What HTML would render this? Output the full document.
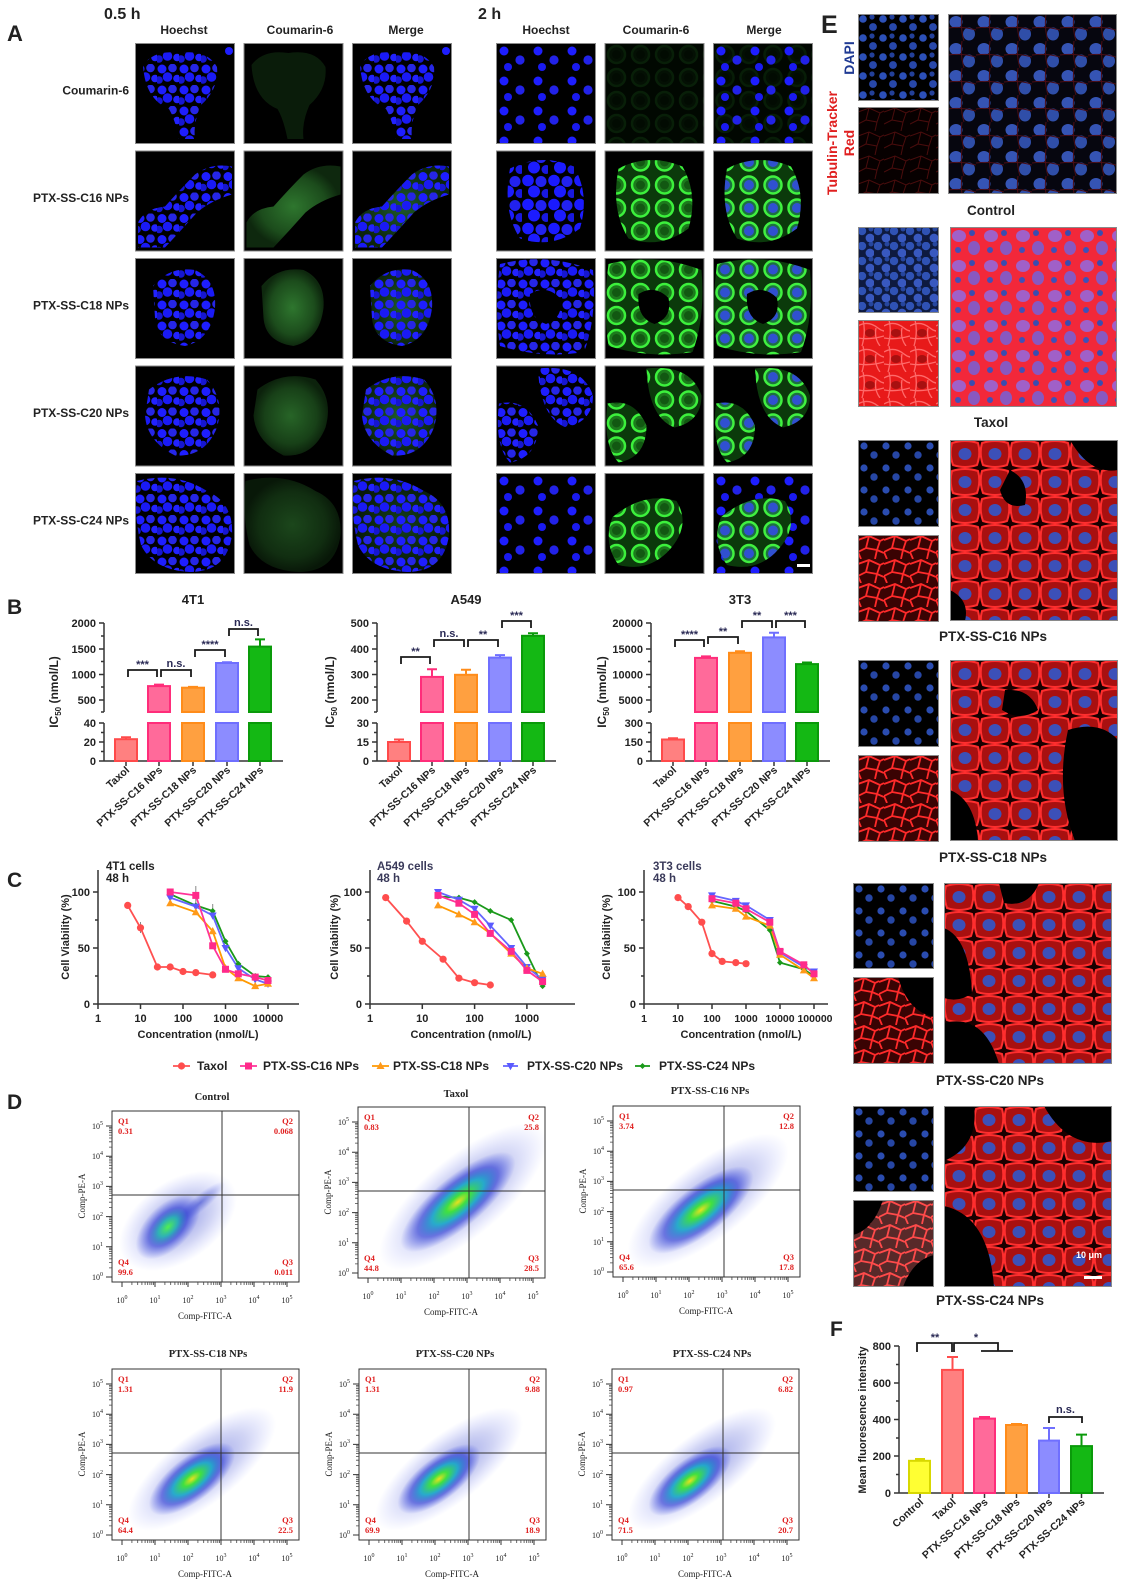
<!DOCTYPE html>
<html><head><meta charset="utf-8">
<style>
html,body{margin:0;padding:0;background:#fff;}
svg{display:block}
text{font-family:"Liberation Sans",Arial,sans-serif;font-weight:bold;fill:#222}
.sf{font-family:"Liberation Serif",serif}
.bd{fill:none;stroke:#8a8a8a;stroke-width:1}
.ax{stroke:#333;stroke-width:1.5;fill:none}
.br{stroke:#1a1a1a;stroke-width:1.8;fill:none}
.st{fill:#2a2a55;font-size:11px}
</style></head><body>
<svg width="1126" height="1586" viewBox="0 0 1126 1586" xmlns="http://www.w3.org/2000/svg" xmlns:xlink="http://www.w3.org/1999/xlink">
<defs>
<pattern id="hb" width="22" height="21" patternUnits="userSpaceOnUse">
<circle cx="5" cy="5" r="4.5" fill="#1e1eff"/><circle cx="15.5" cy="4" r="4.3" fill="#2626e6"/><circle cx="10.5" cy="13" r="4.8" fill="#1a1af5"/><circle cx="20" cy="14.5" r="3.8" fill="#2222ff"/><circle cx="2" cy="16" r="3.8" fill="#1616d0"/>
</pattern>
<pattern id="hbs" width="34" height="30" patternUnits="userSpaceOnUse">
<circle cx="8" cy="8" r="4.5" fill="#1e1eff"/><circle cx="24" cy="17" r="4.6" fill="#2222e8"/><circle cx="12" cy="24" r="4" fill="#1a1af0"/>
</pattern>
<pattern id="hbL" width="26" height="24" patternUnits="userSpaceOnUse">
<circle cx="6" cy="6" r="5.8" fill="#1a1aff"/><circle cx="19" cy="7" r="5.5" fill="#2222f0"/><circle cx="12" cy="17" r="6" fill="#1c1cff"/><circle cx="24" cy="19" r="4.5" fill="#1818e0"/>
</pattern>
<pattern id="cg" width="24" height="23" patternUnits="userSpaceOnUse">
<rect width="24" height="23" fill="#0b3a0b"/><circle cx="12" cy="11.5" r="8.5" fill="#1c7a1c" stroke="#3cf03c" stroke-width="2.5"/><circle cx="12" cy="11.5" r="4.5" fill="#125812"/>
</pattern>
<pattern id="mg" width="24" height="23" patternUnits="userSpaceOnUse">
<rect width="24" height="23" fill="#0b3a0b"/><circle cx="12" cy="11.5" r="8.5" fill="#1c7040" stroke="#40f040" stroke-width="2.5"/><circle cx="12" cy="11.5" r="5" fill="#3050d0"/>
</pattern>
<radialGradient id="dg"><stop offset="0" stop-color="#2e762e"/><stop offset=".7" stop-color="#1c4c1c"/><stop offset="1" stop-color="#0e280e"/></radialGradient>
<radialGradient id="dgm"><stop offset="0" stop-color="#1f5a2a"/><stop offset="1" stop-color="#0c240c"/></radialGradient>
<path id="s1" d="M8,22 Q20,6 45,10 Q72,6 82,24 Q84,46 66,62 Q58,80 60,96 L44,96 Q40,76 34,66 Q10,56 8,22Z"/>
<path id="s2" d="M3,72 Q10,58 30,56 Q46,38 60,24 Q76,12 97,16 L97,44 Q76,50 62,62 Q46,80 30,97 L3,97Z"/>
<path id="s3" d="M18,28 Q34,8 60,12 Q82,22 80,50 Q76,82 50,88 Q22,84 20,60Z"/>
<path id="s4" d="M14,24 Q40,4 72,14 Q90,34 82,62 Q70,92 40,90 Q12,76 10,50Z"/>
<path id="s5" d="M2,8 Q40,-2 72,18 Q99,30 97,62 Q92,99 55,99 Q18,97 6,72 Q-2,40 2,8Z"/>
<rect id="t1" x="0" y="0" width="100" height="101"/>
<path id="t2" d="M14,18 Q45,2 78,16 Q94,44 84,78 Q56,99 24,88 Q6,60 14,18Z"/>
<path id="t3" fill-rule="evenodd" d="M4,6 Q50,-6 97,12 Q101,60 88,94 Q46,101 4,88 Q-2,50 4,6Z M34,36 Q50,26 64,40 Q68,60 50,66 Q32,60 34,36Z"/>
<path id="t4" d="M42,3 Q86,-2 97,30 Q97,56 70,62 Q44,52 42,3Z M3,38 Q30,32 42,60 Q42,92 14,97 Q-2,80 3,38Z"/>
<path id="t5" d="M8,44 Q40,18 72,28 Q88,54 62,80 Q42,99 14,92 Q-2,70 8,44Z"/>
<pattern id="ed" width="20" height="19" patternUnits="userSpaceOnUse">
<circle cx="5" cy="5" r="3.8" fill="#2c50b8"/><circle cx="15" cy="13" r="3.9" fill="#2848aa"/><circle cx="14" cy="3" r="2.6" fill="#23409a"/>
</pattern>
<pattern id="ed2" width="22" height="22" patternUnits="userSpaceOnUse">
<circle cx="6" cy="6" r="3.6" fill="#2a4cb0"/><circle cx="16" cy="15" r="3.7" fill="#2646a4"/>
</pattern>
<pattern id="edT" width="16" height="15" patternUnits="userSpaceOnUse">
<rect width="16" height="15" fill="#0e1a40"/><circle cx="4" cy="4" r="4.2" fill="#2f52b4"/><circle cx="12" cy="11" r="4.4" fill="#3858c0"/><circle cx="13" cy="2" r="2.5" fill="#26469e"/>
</pattern>
<pattern id="erC" width="26" height="24" patternUnits="userSpaceOnUse">
<rect width="26" height="24" fill="#070000"/><path d="M0,5 L11,1 L22,6 L26,4 M11,1 L8,13 L0,17 M8,13 L19,15 L22,6 M19,15 L17,24" fill="none" stroke="#4a0c0c" stroke-width="1"/>
</pattern>
<pattern id="er" width="26" height="24" patternUnits="userSpaceOnUse">
<rect width="26" height="24" fill="#3a0303"/><path d="M0,5 L11,1 L22,6 L26,4 M11,1 L8,13 L0,17 M8,13 L19,15 L22,6 M19,15 L17,24 M0,17 L3,24 M19,15 L26,18" fill="none" stroke="#ff2a2a" stroke-width="1.8"/>
</pattern>
<pattern id="erT" width="26" height="26" patternUnits="userSpaceOnUse">
<rect width="26" height="26" fill="#e81a1a"/><ellipse cx="12" cy="13" rx="5" ry="4" fill="#a81010"/><path d="M0,6 Q10,0 20,8 T40,4 M5,0 Q8,12 4,26 M18,8 Q16,18 22,26 M0,18 Q12,20 26,16" stroke="#ff6a6a" stroke-width="1.3" fill="none"/>
</pattern>
<pattern id="ec" width="28" height="27" patternUnits="userSpaceOnUse">
<rect width="28" height="27" fill="#06060f"/><ellipse cx="8" cy="8" rx="6.5" ry="6" fill="#3554b4"/><ellipse cx="21" cy="20" rx="6" ry="6.5" fill="#2f4ea8"/><path d="M0,14 Q14,12 28,16 M14,0 Q12,14 16,27" stroke="#4a0c14" stroke-width="1" fill="none"/>
</pattern>
<pattern id="em" width="30" height="28" patternUnits="userSpaceOnUse">
<rect width="30" height="28" fill="#1a0000"/><path d="M2,3 Q15,-1 28,3 Q31,14 27,25 Q15,29 3,25 Q-1,14 2,3Z" fill="#a81010" stroke="#ff2e2e" stroke-width="2"/><ellipse cx="15" cy="14" rx="6.5" ry="6" fill="#3c50b8"/>
</pattern>
<pattern id="eT" width="32" height="30" patternUnits="userSpaceOnUse">
<rect width="32" height="30" fill="#f2283a"/><ellipse cx="9" cy="9" rx="7" ry="6" fill="#a060c8"/><ellipse cx="24" cy="21" rx="6" ry="7" fill="#8858c0"/><circle cx="22" cy="6" r="3" fill="#3a4cb0"/><circle cx="8" cy="23" r="3" fill="#4050b8"/>
</pattern>
<radialGradient id="fb"><stop offset="0" stop-color="#e8e020"/><stop offset=".2" stop-color="#40e040"/><stop offset=".45" stop-color="#18a8c8" stop-opacity=".9"/><stop offset=".7" stop-color="#1a2ad0" stop-opacity=".55"/><stop offset="1" stop-color="#2a3ae0" stop-opacity="0"/></radialGradient>
<radialGradient id="fbc"><stop offset="0" stop-color="#50f050"/><stop offset=".3" stop-color="#20b0b0" stop-opacity=".9"/><stop offset=".6" stop-color="#1a2ad0" stop-opacity=".55"/><stop offset="1" stop-color="#2a3ae0" stop-opacity="0"/></radialGradient>
<radialGradient id="fh"><stop offset="0" stop-color="#1a2ac8" stop-opacity=".5"/><stop offset=".6" stop-color="#3040d0" stop-opacity=".22"/><stop offset="1" stop-color="#5060ff" stop-opacity="0"/></radialGradient>
<path id="mny" d="M-3,-9.1H0M-3,-14.4H0M-3,-18.2H0M-3,-21.1H0M-3,-23.5H0M-3,-25.5H0M-3,-27.3H0M-3,-28.8H0"/>
<path id="mnx" d="M9.9,0V3M15.7,0V3M19.9,0V3M23.1,0V3M25.7,0V3M27.9,0V3M29.8,0V3M31.5,0V3"/>
<g id="fp">
<rect x="0" y="0" width="187" height="171" fill="none" stroke="#333" stroke-width="1"/>
<path d="M-6,166H0M-6,135.8H0M-6,105.6H0M-6,75.4H0M-6,45.2H0M-6,15H0M10,171V176M43,171V176M76,171V176M109,171V176M142,171V176M175,171V176" stroke="#333" stroke-width="1"/>
<g stroke="#444" stroke-width=".8">
<use href="#mny" x="0" y="166"/><use href="#mny" x="0" y="135.8"/><use href="#mny" x="0" y="105.6"/><use href="#mny" x="0" y="75.4"/><use href="#mny" x="0" y="45.2"/>
<use href="#mnx" x="10" y="171"/><use href="#mnx" x="43" y="171"/><use href="#mnx" x="76" y="171"/><use href="#mnx" x="109" y="171"/><use href="#mnx" x="142" y="171"/>
</g>
<g class="sf" style="font-size:8px;font-weight:normal">
<text class="sf" x="-9" y="169" text-anchor="end" style="font-weight:normal">10<tspan dy="-4" font-size="6">0</tspan></text>
<text class="sf" x="-9" y="139" text-anchor="end" style="font-weight:normal">10<tspan dy="-4" font-size="6">1</tspan></text>
<text class="sf" x="-9" y="109" text-anchor="end" style="font-weight:normal">10<tspan dy="-4" font-size="6">2</tspan></text>
<text class="sf" x="-9" y="78" text-anchor="end" style="font-weight:normal">10<tspan dy="-4" font-size="6">3</tspan></text>
<text class="sf" x="-9" y="48" text-anchor="end" style="font-weight:normal">10<tspan dy="-4" font-size="6">4</tspan></text>
<text class="sf" x="-9" y="18" text-anchor="end" style="font-weight:normal">10<tspan dy="-4" font-size="6">5</tspan></text>
<text class="sf" x="10" y="192" text-anchor="middle" style="font-weight:normal">10<tspan dy="-4" font-size="6">0</tspan></text>
<text class="sf" x="43" y="192" text-anchor="middle" style="font-weight:normal">10<tspan dy="-4" font-size="6">1</tspan></text>
<text class="sf" x="76" y="192" text-anchor="middle" style="font-weight:normal">10<tspan dy="-4" font-size="6">2</tspan></text>
<text class="sf" x="109" y="192" text-anchor="middle" style="font-weight:normal">10<tspan dy="-4" font-size="6">3</tspan></text>
<text class="sf" x="142" y="192" text-anchor="middle" style="font-weight:normal">10<tspan dy="-4" font-size="6">4</tspan></text>
<text class="sf" x="175" y="192" text-anchor="middle" style="font-weight:normal">10<tspan dy="-4" font-size="6">5</tspan></text>
<text class="sf" x="93" y="208" text-anchor="middle" style="font-weight:normal;font-size:9px">Comp-FITC-A</text>
<text class="sf" transform="translate(-27,85) rotate(-90)" text-anchor="middle" style="font-weight:normal;font-size:9px">Comp-PE-A</text>
</g>
</g>
<circle id="mC" r="3.6"/>
<path id="mS" d="M-3.5,-3.5h7v7h-7z"/>
<path id="mT" d="M0,-4.2L4,3L-4,3z"/>
<path id="mV" d="M0,4.2L4,-3L-4,-3z"/>
<path id="mD" d="M0,-3L3,0L0,3L-3,0z"/>
</defs>

<rect width="1126" height="1586" fill="#fff"/>

<!-- ================= PANEL A ================= -->
<text x="7" y="41" style="font-size:22px">A</text>
<text x="104" y="19" style="font-size:16px">0.5 h</text>
<text x="478" y="19" style="font-size:16px">2 h</text>
<g style="font-size:12px" text-anchor="middle">
<text x="184" y="34">Hoechst</text><text x="300" y="34">Coumarin-6</text><text x="406" y="34">Merge</text>
<text x="546" y="34">Hoechst</text><text x="656" y="34">Coumarin-6</text><text x="764" y="34">Merge</text>
</g>
<g style="font-size:12px" text-anchor="end">
<text x="129" y="94.5">Coumarin-6</text>
<text x="129" y="202">PTX-SS-C16 NPs</text>
<text x="129" y="309.5">PTX-SS-C18 NPs</text>
<text x="129" y="417">PTX-SS-C20 NPs</text>
<text x="129" y="524.5">PTX-SS-C24 NPs</text>
</g>

<svg x="135" y="43" width="100" height="101"><rect width="100" height="101"/><use href="#s1" fill="url(#hb)"/><circle cx="94" cy="8" r="4" fill="#1e1eff"/><rect class="bd" x=".5" y=".5" width="99" height="100"/></svg>
<svg x="243.5" y="43" width="100" height="101"><rect width="100" height="101"/><use href="#s1" fill="#0a1c0a"/><rect class="bd" x=".5" y=".5" width="99" height="100"/></svg>
<svg x="352" y="43" width="100" height="101"><rect width="100" height="101"/><use href="#s1" fill="url(#hb)"/><circle cx="94" cy="8" r="4" fill="#1e1eff"/><rect class="bd" x=".5" y=".5" width="99" height="100"/></svg>
<svg x="496" y="43" width="100" height="101"><rect width="100" height="101"/><use href="#t1" fill="url(#hbs)"/><rect class="bd" x=".5" y=".5" width="99" height="100"/></svg>
<svg x="604.5" y="43" width="100" height="101"><rect width="100" height="101"/><use href="#t1" fill="url(#cg)" opacity=".13"/><rect class="bd" x=".5" y=".5" width="99" height="100"/></svg>
<svg x="713" y="43" width="100" height="101"><rect width="100" height="101"/><use href="#t1" fill="url(#cg)" opacity=".12"/><use href="#t1" fill="url(#hbs)"/><rect class="bd" x=".5" y=".5" width="99" height="100"/></svg>
<svg x="135" y="150.5" width="100" height="101"><rect width="100" height="101"/><use href="#s2" fill="url(#hb)"/><rect class="bd" x=".5" y=".5" width="99" height="100"/></svg>
<svg x="243.5" y="150.5" width="100" height="101"><rect width="100" height="101"/><use href="#s2" fill="url(#dg)"/><rect class="bd" x=".5" y=".5" width="99" height="100"/></svg>
<svg x="352" y="150.5" width="100" height="101"><rect width="100" height="101"/><use href="#s2" fill="url(#dgm)"/><use href="#s2" fill="url(#hb)"/><rect class="bd" x=".5" y=".5" width="99" height="100"/></svg>
<svg x="496" y="150.5" width="100" height="101"><rect width="100" height="101"/><use href="#t2" fill="url(#hbL)"/><rect class="bd" x=".5" y=".5" width="99" height="100"/></svg>
<svg x="604.5" y="150.5" width="100" height="101"><rect width="100" height="101"/><use href="#t2" fill="url(#cg)"/><rect class="bd" x=".5" y=".5" width="99" height="100"/></svg>
<svg x="713" y="150.5" width="100" height="101"><rect width="100" height="101"/><use href="#t2" fill="url(#mg)"/><rect class="bd" x=".5" y=".5" width="99" height="100"/></svg>
<svg x="135" y="258" width="100" height="101"><rect width="100" height="101"/><use href="#s3" fill="url(#hb)"/><rect class="bd" x=".5" y=".5" width="99" height="100"/></svg>
<svg x="243.5" y="258" width="100" height="101"><rect width="100" height="101"/><use href="#s3" fill="url(#dg)"/><rect class="bd" x=".5" y=".5" width="99" height="100"/></svg>
<svg x="352" y="258" width="100" height="101"><rect width="100" height="101"/><use href="#s3" fill="url(#dgm)"/><use href="#s3" fill="url(#hb)"/><rect class="bd" x=".5" y=".5" width="99" height="100"/></svg>
<svg x="496" y="258" width="100" height="101"><rect width="100" height="101"/><use href="#t3" fill="url(#hb)"/><rect class="bd" x=".5" y=".5" width="99" height="100"/></svg>
<svg x="604.5" y="258" width="100" height="101"><rect width="100" height="101"/><use href="#t3" fill="url(#cg)"/><rect class="bd" x=".5" y=".5" width="99" height="100"/></svg>
<svg x="713" y="258" width="100" height="101"><rect width="100" height="101"/><use href="#t3" fill="url(#mg)"/><rect class="bd" x=".5" y=".5" width="99" height="100"/></svg>
<svg x="135" y="365.5" width="100" height="101"><rect width="100" height="101"/><use href="#s4" fill="url(#hb)"/><rect class="bd" x=".5" y=".5" width="99" height="100"/></svg>
<svg x="243.5" y="365.5" width="100" height="101"><rect width="100" height="101"/><use href="#s4" fill="url(#dg)" opacity=".85"/><rect class="bd" x=".5" y=".5" width="99" height="100"/></svg>
<svg x="352" y="365.5" width="100" height="101"><rect width="100" height="101"/><use href="#s4" fill="url(#dgm)"/><use href="#s4" fill="url(#hb)"/><rect class="bd" x=".5" y=".5" width="99" height="100"/></svg>
<svg x="496" y="365.5" width="100" height="101"><rect width="100" height="101"/><use href="#t4" fill="url(#hb)"/><rect class="bd" x=".5" y=".5" width="99" height="100"/></svg>
<svg x="604.5" y="365.5" width="100" height="101"><rect width="100" height="101"/><use href="#t4" fill="url(#cg)"/><rect class="bd" x=".5" y=".5" width="99" height="100"/></svg>
<svg x="713" y="365.5" width="100" height="101"><rect width="100" height="101"/><use href="#t4" fill="url(#mg)"/><rect class="bd" x=".5" y=".5" width="99" height="100"/></svg>
<svg x="135" y="473" width="100" height="101"><rect width="100" height="101"/><use href="#s5" fill="url(#hb)"/><rect class="bd" x=".5" y=".5" width="99" height="100"/></svg>
<svg x="243.5" y="473" width="100" height="101"><rect width="100" height="101"/><use href="#s5" fill="url(#dg)" opacity=".6"/><rect class="bd" x=".5" y=".5" width="99" height="100"/></svg>
<svg x="352" y="473" width="100" height="101"><rect width="100" height="101"/><use href="#s5" fill="url(#dgm)" opacity=".7"/><use href="#s5" fill="url(#hb)"/><rect class="bd" x=".5" y=".5" width="99" height="100"/></svg>
<svg x="496" y="473" width="100" height="101"><rect width="100" height="101"/><use href="#t1" fill="url(#hbs)"/><rect class="bd" x=".5" y=".5" width="99" height="100"/></svg>
<svg x="604.5" y="473" width="100" height="101"><rect width="100" height="101"/><use href="#t5" fill="url(#cg)"/><rect class="bd" x=".5" y=".5" width="99" height="100"/></svg>
<svg x="713" y="473" width="100" height="101"><rect width="100" height="101"/><use href="#t1" fill="url(#hbs)"/><use href="#t5" fill="url(#mg)"/><rect x="84" y="91" width="13" height="3" fill="#fff"/><rect class="bd" x=".5" y=".5" width="99" height="100"/></svg>

<!-- ================= PANEL E ================= -->
<text x="821" y="33" style="font-size:25px">E</text>
<text transform="translate(854,58) rotate(-90)" text-anchor="middle" style="font-size:14px;fill:#1f3a93">DAPI</text>
<text transform="translate(837,143) rotate(-90)" text-anchor="middle" style="font-size:14px;fill:#e02020">Tubulin-Tracker</text>
<text transform="translate(854,143) rotate(-90)" text-anchor="middle" style="font-size:14px;fill:#e02020">Red</text>

<svg x="858" y="14" width="81" height="87"><rect width="81" height="87"/><rect width="81" height="87" fill="url(#ed)"/><rect class="bd" x=".5" y=".5" width="80" height="86"/></svg>
<svg x="858" y="107" width="81" height="87"><rect width="81" height="87" fill="url(#erC)"/><rect class="bd" x=".5" y=".5" width="80" height="86"/></svg>
<svg x="948" y="14" width="169" height="180"><rect width="169" height="180" fill="url(#ec)"/><rect class="bd" x=".5" y=".5" width="168" height="179"/></svg>
<svg x="858" y="227" width="81" height="86"><rect width="81" height="86" fill="url(#edT)"/><rect class="bd" x=".5" y=".5" width="80" height="85"/></svg>
<svg x="858" y="320" width="81" height="87"><rect width="81" height="87" fill="url(#erT)"/><rect class="bd" x=".5" y=".5" width="80" height="86"/></svg>
<svg x="950" y="227" width="167" height="180"><rect width="167" height="180" fill="url(#eT)"/><rect class="bd" x=".5" y=".5" width="166" height="179"/></svg>
<svg x="858" y="440" width="81" height="87"><rect width="81" height="87"/><rect width="81" height="87" fill="url(#ed2)"/><rect class="bd" x=".5" y=".5" width="80" height="86"/></svg>
<svg x="858" y="535" width="81" height="87"><rect width="81" height="87" fill="url(#er)"/><rect class="bd" x=".5" y=".5" width="80" height="86"/></svg>
<svg x="950" y="440" width="168" height="181"><rect width="168" height="181" fill="url(#em)"/><path d="M120,0 H168 V30 Q140,35 120,0Z M60,30 Q80,40 75,65 Q55,70 50,50Z M0,150 Q20,160 15,181 H0Z" fill="#000"/><rect class="bd" x=".5" y=".5" width="167" height="180"/></svg>
<svg x="858" y="660" width="81" height="87"><rect width="81" height="87"/><rect width="81" height="87" fill="url(#ed2)"/><rect class="bd" x=".5" y=".5" width="80" height="86"/></svg>
<svg x="858" y="755" width="81" height="87"><rect width="81" height="87" fill="url(#er)"/><rect class="bd" x=".5" y=".5" width="80" height="86"/></svg>
<svg x="950" y="660" width="168" height="181"><rect width="168" height="181" fill="url(#em)"/><path d="M118,70 Q150,60 168,80 V181 H125 Q105,130 118,70Z M55,30 Q80,28 88,50 Q70,62 52,50Z M0,130 Q25,140 28,181 H0Z" fill="#000"/><rect class="bd" x=".5" y=".5" width="167" height="180"/></svg>
<svg x="853" y="883" width="81" height="86"><rect width="81" height="86"/><rect width="81" height="86" fill="url(#ed2)"/><rect class="bd" x=".5" y=".5" width="80" height="85"/></svg>
<svg x="853" y="977" width="81" height="87"><rect width="81" height="87" fill="url(#er)"/><path d="M45,0 H81 V40 Q55,35 45,0Z" fill="#000"/><rect class="bd" x=".5" y=".5" width="80" height="86"/></svg>
<svg x="944" y="883" width="168" height="181"><rect width="168" height="181" fill="url(#em)"/><path d="M0,45 Q25,55 28,110 Q15,120 0,115Z M0,140 Q40,130 55,181 H0Z M55,0 H95 Q85,25 60,20Z" fill="#000"/><rect class="bd" x=".5" y=".5" width="167" height="180"/></svg>
<svg x="853" y="1106" width="81" height="86"><rect width="81" height="86"/><rect width="81" height="86" fill="url(#ed2)"/><rect class="bd" x=".5" y=".5" width="80" height="85"/></svg>
<svg x="853" y="1200" width="81" height="87"><rect width="81" height="87" fill="url(#er)" opacity=".85"/><path d="M0,0 H30 Q20,30 0,35Z M50,87 Q60,60 81,55 V87Z" fill="#000"/><rect class="bd" x=".5" y=".5" width="80" height="86"/></svg>
<svg x="944" y="1106" width="168" height="181"><rect width="168" height="181" fill="url(#em)"/><path d="M100,0 H168 V35 Q125,45 100,0Z M0,0 H30 Q35,40 0,55Z M0,100 Q45,110 50,181 H0Z" fill="#000"/><text x="132" y="152" style="font-size:9px;fill:#fff">10 μm</text><rect x="140" y="170" width="18" height="3" fill="#fff"/><rect class="bd" x=".5" y=".5" width="167" height="180"/></svg>

<g style="font-size:13.5px" text-anchor="middle">
<text x="991" y="215">Control</text>
<text x="991" y="427">Taxol</text>
<text x="993" y="641">PTX-SS-C16 NPs</text>
<text x="993" y="862">PTX-SS-C18 NPs</text>
<text x="990" y="1085">PTX-SS-C20 NPs</text>
<text x="990" y="1305">PTX-SS-C24 NPs</text>
</g>

<!-- ================= PANEL B ================= -->
<text x="7" y="614" style="font-size:21px">B</text>
<g style="font-size:13px" text-anchor="middle">
<text x="193" y="604">4T1</text><text x="466" y="604">A549</text><text x="740" y="604">3T3</text>
</g>
<path class="ax" d="M104,623V712M104,723V761H283M99,623H104M99,649H104M99,674.5H104M99,700H104M99,723H104M99,742H104M99,761H104M101,636H104M101,661.5H104M101,687H104M101,732.5H104M101,751.5H104M101,712H104M126,761V766M159,761V766M193,761V766M227,761V766M260,761V766"/>
<g style="font-size:11px;fill:#333" text-anchor="end">
<text x="96" y="627">2000</text><text x="96" y="653">1500</text><text x="96" y="678.5">1000</text><text x="96" y="704">500</text><text x="96" y="727">40</text><text x="96" y="746">20</text><text x="96" y="765">0</text>
</g>
<text transform="translate(58,692) rotate(-90)" text-anchor="middle" style="font-size:12px">IC<tspan dy="3" font-size="8">50</tspan><tspan dy="-3"> (nmol/L)</tspan></text>
<g stroke-width="2">
<rect x="115" y="739.2" width="22" height="21.8" fill="#ff8080" stroke="#ff4a4a"/>
<rect x="148" y="686.1" width="22" height="25.9" fill="#ff6a9a" stroke="#ff2d7a"/><rect x="148" y="723" width="22" height="38" fill="#ff6a9a" stroke="#ff2d7a"/>
<rect x="182" y="687.7" width="22" height="24.3" fill="#ffa040" stroke="#ff8c1a"/><rect x="182" y="723" width="22" height="38" fill="#ffa040" stroke="#ff8c1a"/>
<rect x="216" y="663" width="22" height="49" fill="#8c8cff" stroke="#6f6fff"/><rect x="216" y="723" width="22" height="38" fill="#8c8cff" stroke="#6f6fff"/>
<rect x="249" y="646.6" width="22" height="65.4" fill="#14b814" stroke="#0a9a0a"/><rect x="249" y="723" width="22" height="38" fill="#14b814" stroke="#0a9a0a"/>
<path d="M126,739V737.3M121,737.3H131" stroke="#ff4a4a"/>
<path d="M159,686V684.6M154,684.6H164" stroke="#ff2d7a"/>
<path d="M193,687.7V686.9M188,686.9H198" stroke="#ff8c1a"/>
<path d="M227,663V662.3M222,662.3H232" stroke="#6f6fff"/>
<path d="M260,646.6V639.4M255,639.4H265" stroke="#0a9a0a"/>
</g>
<path class="br" d="M128,677V670H157V677M161,677V670H191V677M195,657V650H225V657M229,636V629H258V636"/>
<g class="st" text-anchor="middle"><text class="st" x="142.5" y="668">***</text><text class="st" x="176" y="667">n.s.</text><text class="st" x="210" y="648">****</text><text class="st" x="243.5" y="626">n.s.</text></g>
<g style="font-size:10.5px">
<text transform="translate(130,771) rotate(-42)" text-anchor="end">Taxol</text>
<text transform="translate(163,771) rotate(-42)" text-anchor="end">PTX-SS-C16 NPs</text>
<text transform="translate(197,771) rotate(-42)" text-anchor="end">PTX-SS-C18 NPs</text>
<text transform="translate(231,771) rotate(-42)" text-anchor="end">PTX-SS-C20 NPs</text>
<text transform="translate(264,771) rotate(-42)" text-anchor="end">PTX-SS-C24 NPs</text>
</g>
<path class="ax" d="M377,623V712M377,723V761H556M372,623H377M372,649H377M372,674.5H377M372,700H377M372,723H377M372,742H377M372,761H377M374,636H377M374,661.5H377M374,687H377M374,732.5H377M374,751.5H377M374,712H377M399,761V766M432,761V766M466,761V766M500,761V766M533,761V766"/>
<g style="font-size:11px;fill:#333" text-anchor="end">
<text x="369" y="627">500</text><text x="369" y="653">400</text><text x="369" y="678.5">300</text><text x="369" y="704">200</text><text x="369" y="727">30</text><text x="369" y="746">15</text><text x="369" y="765">0</text>
</g>
<text transform="translate(334,692) rotate(-90)" text-anchor="middle" style="font-size:12px">IC<tspan dy="3" font-size="8">50</tspan><tspan dy="-3"> (nmol/L)</tspan></text>
<g stroke-width="2">
<rect x="388" y="742" width="22" height="19" fill="#ff8080" stroke="#ff4a4a"/>
<rect x="421" y="676.9" width="22" height="35.1" fill="#ff6a9a" stroke="#ff2d7a"/><rect x="421" y="723" width="22" height="38" fill="#ff6a9a" stroke="#ff2d7a"/>
<rect x="455" y="674.8" width="22" height="37.2" fill="#ffa040" stroke="#ff8c1a"/><rect x="455" y="723" width="22" height="38" fill="#ffa040" stroke="#ff8c1a"/>
<rect x="489" y="657.6" width="22" height="54.4" fill="#8c8cff" stroke="#6f6fff"/><rect x="489" y="723" width="22" height="38" fill="#8c8cff" stroke="#6f6fff"/>
<rect x="522" y="635.8" width="22" height="76.2" fill="#14b814" stroke="#0a9a0a"/><rect x="522" y="723" width="22" height="38" fill="#14b814" stroke="#0a9a0a"/>
<path d="M399,742V739.5M394,739.5H404" stroke="#ff4a4a"/>
<path d="M432,677V669.2M427,669.2H437" stroke="#ff2d7a"/>
<path d="M466,675V669.7M461,669.7H471" stroke="#ff8c1a"/>
<path d="M500,657.6V655.1M495,655.1H505" stroke="#6f6fff"/>
<path d="M533,635.8V633.3M528,633.3H538" stroke="#0a9a0a"/>
</g>
<path class="br" d="M401,664V657H430V664M434,647V640H464V647M468,647V640H498V647M502,628V621H531V628"/>
<g class="st" text-anchor="middle"><text class="st" x="415.5" y="655">**</text><text class="st" x="449" y="637">n.s.</text><text class="st" x="483" y="638">**</text><text class="st" x="516.5" y="619">***</text></g>
<g style="font-size:10.5px">
<text transform="translate(403,771) rotate(-42)" text-anchor="end">Taxol</text>
<text transform="translate(436,771) rotate(-42)" text-anchor="end">PTX-SS-C16 NPs</text>
<text transform="translate(470,771) rotate(-42)" text-anchor="end">PTX-SS-C18 NPs</text>
<text transform="translate(504,771) rotate(-42)" text-anchor="end">PTX-SS-C20 NPs</text>
<text transform="translate(537,771) rotate(-42)" text-anchor="end">PTX-SS-C24 NPs</text>
</g>
<path class="ax" d="M651,623V712M651,723V761H830M646,623H651M646,649H651M646,674.5H651M646,700H651M646,723H651M646,742H651M646,761H651M648,636H651M648,661.5H651M648,687H651M648,732.5H651M648,751.5H651M648,712H651M673,761V766M706,761V766M740,761V766M774,761V766M807,761V766"/>
<g style="font-size:11px;fill:#333" text-anchor="end">
<text x="643" y="627">20000</text><text x="643" y="653">15000</text><text x="643" y="678.5">10000</text><text x="643" y="704">5000</text><text x="643" y="727">300</text><text x="643" y="746">150</text><text x="643" y="765">0</text>
</g>
<text transform="translate(606,692) rotate(-90)" text-anchor="middle" style="font-size:12px">IC<tspan dy="3" font-size="8">50</tspan><tspan dy="-3"> (nmol/L)</tspan></text>
<g stroke-width="2">
<rect x="662" y="739.5" width="22" height="21.5" fill="#ff8080" stroke="#ff4a4a"/>
<rect x="695" y="657.9" width="22" height="54.1" fill="#ff6a9a" stroke="#ff2d7a"/><rect x="695" y="723" width="22" height="38" fill="#ff6a9a" stroke="#ff2d7a"/>
<rect x="729" y="652.8" width="22" height="59.2" fill="#ffa040" stroke="#ff8c1a"/><rect x="729" y="723" width="22" height="38" fill="#ffa040" stroke="#ff8c1a"/>
<rect x="763" y="637.4" width="22" height="74.6" fill="#8c8cff" stroke="#6f6fff"/><rect x="763" y="723" width="22" height="38" fill="#8c8cff" stroke="#6f6fff"/>
<rect x="796" y="664.1" width="22" height="47.9" fill="#14b814" stroke="#0a9a0a"/><rect x="796" y="723" width="22" height="38" fill="#14b814" stroke="#0a9a0a"/>
<path d="M673,739.5V738.2M668,738.2H678" stroke="#ff4a4a"/>
<path d="M706,658V656.4M701,656.4H711" stroke="#ff2d7a"/>
<path d="M740,653V651.2M735,651.2H745" stroke="#ff8c1a"/>
<path d="M774,637.4V632.8M769,632.8H779" stroke="#6f6fff"/>
<path d="M807,664V662.5M802,662.5H812" stroke="#0a9a0a"/>
</g>
<path class="br" d="M675,647V640H704V647M708,644V637H738V644M742,628V621H772V628M776,628V621H805V628"/>
<g class="st" text-anchor="middle"><text class="st" x="689.5" y="638">****</text><text class="st" x="723" y="635">**</text><text class="st" x="757" y="619">**</text><text class="st" x="790.5" y="619">***</text></g>
<g style="font-size:10.5px">
<text transform="translate(677,771) rotate(-42)" text-anchor="end">Taxol</text>
<text transform="translate(710,771) rotate(-42)" text-anchor="end">PTX-SS-C16 NPs</text>
<text transform="translate(744,771) rotate(-42)" text-anchor="end">PTX-SS-C18 NPs</text>
<text transform="translate(778,771) rotate(-42)" text-anchor="end">PTX-SS-C20 NPs</text>
<text transform="translate(811,771) rotate(-42)" text-anchor="end">PTX-SS-C24 NPs</text>
</g>

<!-- ================= PANEL C ================= -->
<text x="7" y="887" style="font-size:21px">C</text>
<path class="ax" d="M98,870V1004H299M93,892H98M93,948H98M93,1004H98M95,920H98M95,976H98M98,1004V1009M140.5,1004V1009M183,1004V1009M225.5,1004V1009M268,1004V1009"/>
<g style="font-size:11px;fill:#333" text-anchor="end"><text x="90" y="896">100</text><text x="90" y="952">50</text><text x="90" y="1008">0</text></g>
<g style="font-size:11px;fill:#333" text-anchor="middle"><text x="98" y="1022">1</text><text x="140.5" y="1022">10</text><text x="183" y="1022">100</text><text x="225.5" y="1022">1000</text><text x="268" y="1022">10000</text></g>
<text x="106" y="870" style="font-size:11.5px">4T1 cells</text><text x="106" y="882" style="font-size:11.5px">48 h</text>
<text x="198" y="1038" text-anchor="middle" style="font-size:11px">Concentration (nmol/L)</text>
<text transform="translate(69,937) rotate(-90)" text-anchor="middle" style="font-size:11px">Cell Viability (%)</text>
<g fill="none" stroke-width="1.8">
<polyline stroke="#ff5050" points="127.7,905.4 140.5,927.8 157.4,967 170.2,967 183,971.5 195.8,972.6 212.7,974.9"/>
<polyline stroke="#1a991a" points="170.2,894.2 195.8,905.4 212.7,911 225.5,941.3 238.3,963.7 255.2,976 268,977.1"/>
<polyline stroke="#6666ff" points="170.2,897.6 195.8,906.6 212.7,915.5 225.5,948 238.3,968.2 255.2,979.4 268,983.8"/>
<polyline stroke="#ff9900" points="170.2,903.2 195.8,912.2 212.7,931.2 225.5,968.2 238.3,978.2 255.2,986.1 268,983.8"/>
<polyline stroke="#ff3399" points="170.2,892 195.8,895.4 212.7,945.8 225.5,969.3 238.3,973.8 255.2,977.1 268,980.5"/>
</g>
<path d="M140.5,922V933M195.8,886V903M212.7,904V918" stroke="#888" stroke-width="1"/>
<g fill="#ff4d4d"><use href="#mC" x="127.7" y="905.4"/><use href="#mC" x="140.5" y="927.8"/><use href="#mC" x="157.4" y="967"/><use href="#mC" x="170.2" y="967"/><use href="#mC" x="183" y="971.5"/><use href="#mC" x="195.8" y="972.6"/><use href="#mC" x="212.7" y="974.9"/></g>
<g fill="#1a991a"><use href="#mD" x="170.2" y="894.2"/><use href="#mD" x="195.8" y="905.4"/><use href="#mD" x="212.7" y="911"/><use href="#mD" x="225.5" y="941.3"/><use href="#mD" x="238.3" y="963.7"/><use href="#mD" x="255.2" y="976"/><use href="#mD" x="268" y="977.1"/></g>
<g fill="#5a5aff"><use href="#mV" x="170.2" y="897.6"/><use href="#mV" x="195.8" y="906.6"/><use href="#mV" x="212.7" y="915.5"/><use href="#mV" x="225.5" y="948"/><use href="#mV" x="238.3" y="968.2"/><use href="#mV" x="255.2" y="979.4"/><use href="#mV" x="268" y="983.8"/></g>
<g fill="#ff9a1a"><use href="#mT" x="170.2" y="903.2"/><use href="#mT" x="195.8" y="912.2"/><use href="#mT" x="212.7" y="931.2"/><use href="#mT" x="225.5" y="968.2"/><use href="#mT" x="238.3" y="978.2"/><use href="#mT" x="255.2" y="986.1"/><use href="#mT" x="268" y="983.8"/></g>
<g fill="#ff2a8a"><use href="#mS" x="170.2" y="892"/><use href="#mS" x="195.8" y="895.4"/><use href="#mS" x="212.7" y="945.8"/><use href="#mS" x="225.5" y="969.3"/><use href="#mS" x="238.3" y="973.8"/><use href="#mS" x="255.2" y="977.1"/><use href="#mS" x="268" y="980.5"/></g>
<path class="ax" d="M370,870V1004H575M365,892H370M365,948H370M365,1004H370M367,920H370M367,976H370M370,1004V1009M422.3,1004V1009M474.6,1004V1009M526.9,1004V1009"/>
<g style="font-size:11px;fill:#333" text-anchor="end"><text x="362" y="896">100</text><text x="362" y="952">50</text><text x="362" y="1008">0</text></g>
<g style="font-size:11px;fill:#333" text-anchor="middle"><text x="370" y="1022">1</text><text x="422.3" y="1022">10</text><text x="474.6" y="1022">100</text><text x="526.9" y="1022">1000</text></g>
<text x="377" y="870" style="font-size:11.5px;fill:#3a3a5a">A549 cells</text><text x="377" y="882" style="font-size:11.5px;fill:#3a3a5a">48 h</text>
<text x="471" y="1038" text-anchor="middle" style="font-size:11px">Concentration (nmol/L)</text>
<text transform="translate(338,937) rotate(-90)" text-anchor="middle" style="font-size:11px">Cell Viability (%)</text>
<g fill="none" stroke-width="1.8">
<polyline stroke="#ff5050" points="385.7,897.6 406.6,921.1 422.3,941.3 443.1,959.2 458.9,978.2 474.6,982.7 490.3,985"/>
<polyline stroke="#1a991a" points="438,896.5 458.9,897.6 474.6,902.1 490.3,911 511.2,920 526.9,953.6 542.6,986.1"/>
<polyline stroke="#6666ff" points="438,892 458.9,899.8 474.6,908.8 490.3,925.6 511.2,948 526.9,967 542.6,979.4"/>
<polyline stroke="#ff9900" points="438,905.4 458.9,914.4 474.6,922.2 490.3,933.4 511.2,953.6 526.9,968.2 542.6,973.8"/>
<polyline stroke="#ff3399" points="438,895.4 458.9,903.2 474.6,914.4 490.3,933.4 511.2,951.4 526.9,970.4 542.6,981.6"/>
</g>
<g fill="#ff4d4d"><use href="#mC" x="385.7" y="897.6"/><use href="#mC" x="406.6" y="921.1"/><use href="#mC" x="422.3" y="941.3"/><use href="#mC" x="443.1" y="959.2"/><use href="#mC" x="458.9" y="978.2"/><use href="#mC" x="474.6" y="982.7"/><use href="#mC" x="490.3" y="985"/></g>
<g fill="#1a991a"><use href="#mD" x="438" y="896.5"/><use href="#mD" x="458.9" y="897.6"/><use href="#mD" x="474.6" y="902.1"/><use href="#mD" x="490.3" y="911"/><use href="#mD" x="511.2" y="920"/><use href="#mD" x="526.9" y="953.6"/><use href="#mD" x="542.6" y="986.1"/></g>
<g fill="#5a5aff"><use href="#mV" x="438" y="892"/><use href="#mV" x="458.9" y="899.8"/><use href="#mV" x="474.6" y="908.8"/><use href="#mV" x="490.3" y="925.6"/><use href="#mV" x="511.2" y="948"/><use href="#mV" x="526.9" y="967"/><use href="#mV" x="542.6" y="979.4"/></g>
<g fill="#ff9a1a"><use href="#mT" x="438" y="905.4"/><use href="#mT" x="458.9" y="914.4"/><use href="#mT" x="474.6" y="922.2"/><use href="#mT" x="490.3" y="933.4"/><use href="#mT" x="511.2" y="953.6"/><use href="#mT" x="526.9" y="968.2"/><use href="#mT" x="542.6" y="973.8"/></g>
<g fill="#ff2a8a"><use href="#mS" x="438" y="895.4"/><use href="#mS" x="458.9" y="903.2"/><use href="#mS" x="474.6" y="914.4"/><use href="#mS" x="490.3" y="933.4"/><use href="#mS" x="511.2" y="951.4"/><use href="#mS" x="526.9" y="970.4"/><use href="#mS" x="542.6" y="981.6"/></g>
<path class="ax" d="M644,870V1004H828M639,892H644M639,948H644M639,1004H644M641,920H644M641,976H644M644,1004V1009M678,1004V1009M712,1004V1009M746,1004V1009M780,1004V1009M814,1004V1009"/>
<g style="font-size:11px;fill:#333" text-anchor="end"><text x="636" y="896">100</text><text x="636" y="952">50</text><text x="636" y="1008">0</text></g>
<g style="font-size:10.5px;fill:#333" text-anchor="middle"><text x="644" y="1022">1</text><text x="678" y="1022">10</text><text x="712" y="1022">100</text><text x="746" y="1022">1000</text><text x="780" y="1022">10000</text><text x="815" y="1022">100000</text></g>
<text x="653" y="870" style="font-size:11.5px;fill:#3a3a5a">3T3 cells</text><text x="653" y="882" style="font-size:11.5px;fill:#3a3a5a">48 h</text>
<text x="741" y="1038" text-anchor="middle" style="font-size:11px">Concentration (nmol/L)</text>
<text transform="translate(610,937) rotate(-90)" text-anchor="middle" style="font-size:11px">Cell Viability (%)</text>
<g fill="none" stroke-width="1.8">
<polyline stroke="#ff5050" points="678,897.6 688.2,906.6 701.8,922.2 712,953.6 722.2,961.4 735.8,962.6 746,963.7"/>
<polyline stroke="#1a991a" points="712,900.9 735.8,906.6 746,911 769.8,930.1 780,962.6 803.8,969.3 814,976"/>
<polyline stroke="#6666ff" points="712,895.4 735.8,900.9 746,905.4 769.8,920 780,952.5 803.8,967 814,971.5"/>
<polyline stroke="#ff9900" points="712,905.4 735.8,908.8 746,916.6 769.8,925.6 780,954.7 803.8,970.4 814,978.2"/>
<polyline stroke="#ff3399" points="712,898.7 735.8,903.2 746,908.8 769.8,922.2 780,951.4 803.8,964.8 814,973.8"/>
</g>
<g fill="#ff4d4d"><use href="#mC" x="678" y="897.6"/><use href="#mC" x="688.2" y="906.6"/><use href="#mC" x="701.8" y="922.2"/><use href="#mC" x="712" y="953.6"/><use href="#mC" x="722.2" y="961.4"/><use href="#mC" x="735.8" y="962.6"/><use href="#mC" x="746" y="963.7"/></g>
<g fill="#1a991a"><use href="#mD" x="712" y="900.9"/><use href="#mD" x="735.8" y="906.6"/><use href="#mD" x="746" y="911"/><use href="#mD" x="769.8" y="930.1"/><use href="#mD" x="780" y="962.6"/><use href="#mD" x="803.8" y="969.3"/><use href="#mD" x="814" y="976"/></g>
<g fill="#5a5aff"><use href="#mV" x="712" y="895.4"/><use href="#mV" x="735.8" y="900.9"/><use href="#mV" x="746" y="905.4"/><use href="#mV" x="769.8" y="920"/><use href="#mV" x="780" y="952.5"/><use href="#mV" x="803.8" y="967"/><use href="#mV" x="814" y="971.5"/></g>
<g fill="#ff9a1a"><use href="#mT" x="712" y="905.4"/><use href="#mT" x="735.8" y="908.8"/><use href="#mT" x="746" y="916.6"/><use href="#mT" x="769.8" y="925.6"/><use href="#mT" x="780" y="954.7"/><use href="#mT" x="803.8" y="970.4"/><use href="#mT" x="814" y="978.2"/></g>
<g fill="#ff2a8a"><use href="#mS" x="712" y="898.7"/><use href="#mS" x="735.8" y="903.2"/><use href="#mS" x="746" y="908.8"/><use href="#mS" x="769.8" y="922.2"/><use href="#mS" x="780" y="951.4"/><use href="#mS" x="803.8" y="964.8"/><use href="#mS" x="814" y="973.8"/></g>
<g stroke-width="1.8">
<line x1="173" y1="1066" x2="190" y2="1066" stroke="#ff5050"/><use href="#mC" x="181.5" y="1066" fill="#ff4d4d"/>
<line x1="240" y1="1066" x2="257" y2="1066" stroke="#ff3399"/><use href="#mS" x="248.5" y="1066" fill="#ff2a8a"/>
<line x1="372" y1="1066" x2="389" y2="1066" stroke="#ff9900"/><use href="#mT" x="380.5" y="1066" fill="#ff9a1a"/>
<line x1="503" y1="1066" x2="518" y2="1066" stroke="#6666ff"/><use href="#mV" x="510.5" y="1066" fill="#5a5aff"/>
<line x1="635" y1="1066" x2="650" y2="1066" stroke="#1a991a"/><use href="#mD" x="642.5" y="1066" fill="#1a991a"/>
</g>
<g style="font-size:12px">
<text x="197" y="1070">Taxol</text><text x="263" y="1070">PTX-SS-C16 NPs</text><text x="393" y="1070">PTX-SS-C18 NPs</text><text x="527" y="1070">PTX-SS-C20 NPs</text><text x="659" y="1070">PTX-SS-C24 NPs</text>
</g>

<!-- ================= PANEL D ================= -->
<text x="7" y="1109" style="font-size:21px">D</text>
<g class="sf" style="font-size:10.5px" text-anchor="middle">
<text class="sf" x="212" y="1100">Control</text>
<text class="sf" x="456" y="1097">Taxol</text>
<text class="sf" x="710" y="1094">PTX-SS-C16 NPs</text>
<text class="sf" x="208" y="1357">PTX-SS-C18 NPs</text>
<text class="sf" x="455" y="1357">PTX-SS-C20 NPs</text>
<text class="sf" x="712" y="1357">PTX-SS-C24 NPs</text>
</g>
<g transform="translate(112,1111)">
<ellipse cx="66" cy="110" rx="66" ry="40" transform="rotate(-35 66 110)" fill="url(#fh)"/>
<ellipse cx="88" cy="92" rx="32" ry="8" transform="rotate(-40 88 92)" fill="url(#fh)"/>
<ellipse cx="56" cy="116" rx="40" ry="22" transform="rotate(-45 56 116)" fill="url(#fbc)"/>
<use href="#fp"/>
<path d="M110,0V171M0,84H187" stroke="#333" stroke-width="1"/>
<g class="sf" style="font-size:8.5px"><text class="sf" x="6" y="13" style="fill:#e02020">Q1</text><text class="sf" x="6" y="23" style="fill:#e02020">0.31</text><text class="sf" x="181" y="13" text-anchor="end" style="fill:#e02020">Q2</text><text class="sf" x="181" y="23" text-anchor="end" style="fill:#e02020">0.068</text><text class="sf" x="6" y="154" style="fill:#e02020">Q4</text><text class="sf" x="6" y="164" style="fill:#e02020">99.6</text><text class="sf" x="181" y="154" text-anchor="end" style="fill:#e02020">Q3</text><text class="sf" x="181" y="164" text-anchor="end" style="fill:#e02020">0.011</text></g>
</g>
<g transform="translate(358,1107)">
<ellipse cx="105" cy="90" rx="104" ry="40" transform="rotate(-40 105 90)" fill="url(#fh)"/>
<ellipse cx="100" cy="95" rx="72" ry="25" transform="rotate(-40 100 95)" fill="url(#fb)"/>
<use href="#fp"/>
<path d="M111,0V171M0,84H187" stroke="#333" stroke-width="1"/>
<g class="sf" style="font-size:8.5px"><text class="sf" x="6" y="13" style="fill:#e02020">Q1</text><text class="sf" x="6" y="23" style="fill:#e02020">0.83</text><text class="sf" x="181" y="13" text-anchor="end" style="fill:#e02020">Q2</text><text class="sf" x="181" y="23" text-anchor="end" style="fill:#e02020">25.8</text><text class="sf" x="6" y="154" style="fill:#e02020">Q4</text><text class="sf" x="6" y="164" style="fill:#e02020">44.8</text><text class="sf" x="181" y="154" text-anchor="end" style="fill:#e02020">Q3</text><text class="sf" x="181" y="164" text-anchor="end" style="fill:#e02020">28.5</text></g>
</g>
<g transform="translate(613,1106)">
<ellipse cx="95" cy="95" rx="98" ry="38" transform="rotate(-38 95 95)" fill="url(#fh)"/>
<ellipse cx="88" cy="104" rx="64" ry="24" transform="rotate(-38 88 104)" fill="url(#fb)"/>
<use href="#fp"/>
<path d="M111,0V171M0,84H187" stroke="#333" stroke-width="1"/>
<g class="sf" style="font-size:8.5px"><text class="sf" x="6" y="13" style="fill:#e02020">Q1</text><text class="sf" x="6" y="23" style="fill:#e02020">3.74</text><text class="sf" x="181" y="13" text-anchor="end" style="fill:#e02020">Q2</text><text class="sf" x="181" y="23" text-anchor="end" style="fill:#e02020">12.8</text><text class="sf" x="6" y="154" style="fill:#e02020">Q4</text><text class="sf" x="6" y="164" style="fill:#e02020">65.6</text><text class="sf" x="181" y="154" text-anchor="end" style="fill:#e02020">Q3</text><text class="sf" x="181" y="164" text-anchor="end" style="fill:#e02020">17.8</text></g>
</g>
<g transform="translate(112,1369)">
<ellipse cx="90" cy="100" rx="90" ry="35" transform="rotate(-38 90 100)" fill="url(#fh)"/>
<ellipse cx="80" cy="110" rx="52" ry="22" transform="rotate(-38 80 110)" fill="url(#fb)"/>
<use href="#fp"/>
<path d="M109,0V171M0,84H187" stroke="#333" stroke-width="1"/>
<g class="sf" style="font-size:8.5px"><text class="sf" x="6" y="13" style="fill:#e02020">Q1</text><text class="sf" x="6" y="23" style="fill:#e02020">1.31</text><text class="sf" x="181" y="13" text-anchor="end" style="fill:#e02020">Q2</text><text class="sf" x="181" y="23" text-anchor="end" style="fill:#e02020">11.9</text><text class="sf" x="6" y="154" style="fill:#e02020">Q4</text><text class="sf" x="6" y="164" style="fill:#e02020">64.4</text><text class="sf" x="181" y="154" text-anchor="end" style="fill:#e02020">Q3</text><text class="sf" x="181" y="164" text-anchor="end" style="fill:#e02020">22.5</text></g>
</g>
<g transform="translate(359,1369)">
<ellipse cx="90" cy="100" rx="90" ry="34" transform="rotate(-38 90 100)" fill="url(#fh)"/>
<ellipse cx="80" cy="110" rx="50" ry="21" transform="rotate(-38 80 110)" fill="url(#fb)"/>
<use href="#fp"/>
<path d="M110,0V171M0,84H187" stroke="#333" stroke-width="1"/>
<g class="sf" style="font-size:8.5px"><text class="sf" x="6" y="13" style="fill:#e02020">Q1</text><text class="sf" x="6" y="23" style="fill:#e02020">1.31</text><text class="sf" x="181" y="13" text-anchor="end" style="fill:#e02020">Q2</text><text class="sf" x="181" y="23" text-anchor="end" style="fill:#e02020">9.88</text><text class="sf" x="6" y="154" style="fill:#e02020">Q4</text><text class="sf" x="6" y="164" style="fill:#e02020">69.9</text><text class="sf" x="181" y="154" text-anchor="end" style="fill:#e02020">Q3</text><text class="sf" x="181" y="164" text-anchor="end" style="fill:#e02020">18.9</text></g>
</g>
<g transform="translate(612,1369)">
<ellipse cx="90" cy="100" rx="90" ry="34" transform="rotate(-38 90 100)" fill="url(#fh)"/>
<ellipse cx="78" cy="112" rx="50" ry="21" transform="rotate(-38 78 112)" fill="url(#fb)"/>
<use href="#fp"/>
<path d="M111,0V171M0,84H187" stroke="#333" stroke-width="1"/>
<g class="sf" style="font-size:8.5px"><text class="sf" x="6" y="13" style="fill:#e02020">Q1</text><text class="sf" x="6" y="23" style="fill:#e02020">0.97</text><text class="sf" x="181" y="13" text-anchor="end" style="fill:#e02020">Q2</text><text class="sf" x="181" y="23" text-anchor="end" style="fill:#e02020">6.82</text><text class="sf" x="6" y="154" style="fill:#e02020">Q4</text><text class="sf" x="6" y="164" style="fill:#e02020">71.5</text><text class="sf" x="181" y="154" text-anchor="end" style="fill:#e02020">Q3</text><text class="sf" x="181" y="164" text-anchor="end" style="fill:#e02020">20.7</text></g>
</g>

<!-- ================= PANEL F ================= -->
<text x="830" y="1336" style="font-size:21px">F</text>
<path class="ax" d="M899,1346V1493H1104M894,1346H899M894,1383H899M894,1419.5H899M894,1456H899M894,1493H899M896,1364.5H899M896,1401H899M896,1438H899M896,1474.5H899M920,1493V1498M952.5,1493V1498M984.5,1493V1498M1016.5,1493V1498M1049,1493V1498M1081.5,1493V1498"/>
<g style="font-size:11px;fill:#333" text-anchor="end"><text x="891" y="1350">800</text><text x="891" y="1387">600</text><text x="891" y="1423.5">400</text><text x="891" y="1460">200</text><text x="891" y="1497">0</text></g>
<text transform="translate(866,1420) rotate(-90)" text-anchor="middle" style="font-size:11px">Mean fluorescence intensity</text>
<g stroke-width="2">
<rect x="909" y="1460.8" width="21" height="32.2" fill="#ffff33" stroke="#d8d800"/>
<rect x="942" y="1369.9" width="21" height="123.1" fill="#ff8080" stroke="#ff4d4d"/>
<rect x="974" y="1418.6" width="21" height="74.4" fill="#ff6a9a" stroke="#ff2d7a"/>
<rect x="1006" y="1425" width="21" height="68" fill="#ffa040" stroke="#ff8c1a"/>
<rect x="1039" y="1440.6" width="20" height="52.4" fill="#8c8cff" stroke="#6f6fff"/>
<rect x="1071" y="1446.1" width="21" height="46.9" fill="#14b814" stroke="#0a9a0a"/>
<path d="M920,1461V1459M915,1459H925" stroke="#d8d800"/>
<path d="M952.5,1370V1357M947,1357H958" stroke="#ff4d4d"/>
<path d="M984.5,1418.6V1417M979,1417H990" stroke="#ff2d7a"/>
<path d="M1016.5,1425V1424M1011,1424H1022" stroke="#ff8c1a"/>
<path d="M1049,1440.6V1428M1043,1428H1055" stroke="#6f6fff"/>
<path d="M1081.5,1446V1434.6M1076,1434.6H1087" stroke="#0a9a0a"/>
</g>
<path class="br" d="M917,1352V1343H952V1352M954,1352V1343H998V1351M981,1351H1013M1049,1423V1417H1082V1423"/>
<g class="st" text-anchor="middle"><text class="st" x="935" y="1341">**</text><text class="st" x="976" y="1341">*</text><text class="st" x="1065.5" y="1413">n.s.</text></g>
<g style="font-size:10.5px">
<text transform="translate(924,1503) rotate(-42)" text-anchor="end">Control</text>
<text transform="translate(956.5,1503) rotate(-42)" text-anchor="end">Taxol</text>
<text transform="translate(988.5,1503) rotate(-42)" text-anchor="end">PTX-SS-C16 NPs</text>
<text transform="translate(1020.5,1503) rotate(-42)" text-anchor="end">PTX-SS-C18 NPs</text>
<text transform="translate(1053,1503) rotate(-42)" text-anchor="end">PTX-SS-C20 NPs</text>
<text transform="translate(1085.5,1503) rotate(-42)" text-anchor="end">PTX-SS-C24 NPs</text>
</g>
</svg>
</body></html>
